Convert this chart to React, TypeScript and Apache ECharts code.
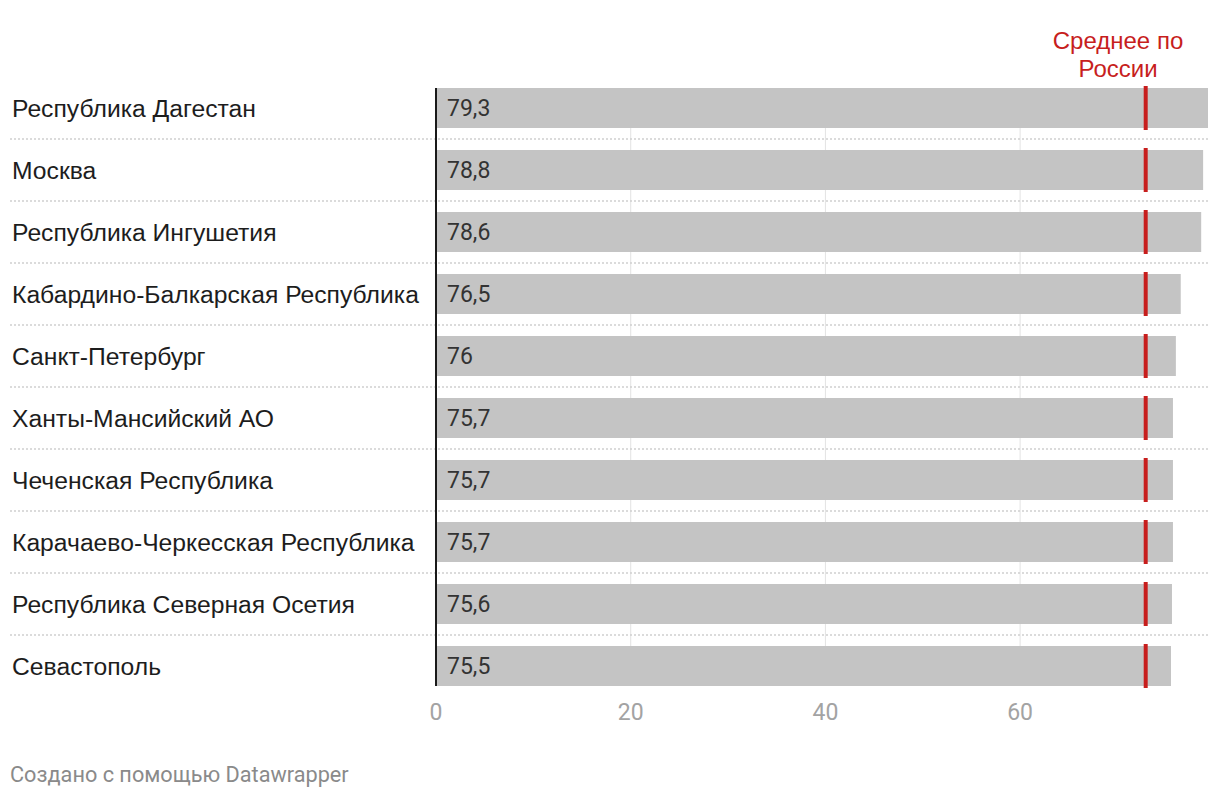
import React, { useEffect, useRef } from "react";
import * as echarts from "echarts";

const categories = [
  "Республика Дагестан",
  "Москва",
  "Республика Ингушетия",
  "Кабардино-Балкарская Республика",
  "Санкт-Петербург",
  "Ханты-Мансийский АО",
  "Чеченская Республика",
  "Карачаево-Черкесская Республика",
  "Республика Северная Осетия",
  "Севастополь",
];
const values = [79.3, 78.8, 78.6, 76.5, 76, 75.7, 75.7, 75.7, 75.6, 75.5];
const russiaAverage = 72.9;
const xTicks = [0, 20, 40, 60];
const averageLabel = "Среднее по\nРоссии";
const footer = "Создано с помощью Datawrapper";

const fmt = (v: number) => String(v).replace(".", ",");

export default function App() {
  const ref = useRef<HTMLDivElement>(null);
  useEffect(() => {
    const chart = echarts.init(ref.current!, null, { renderer: "svg" });
    const n = categories.length;
    const xMax = Math.max(...values);
    const half = 20;
    const rowSpan = (api: any, i: number) => {
      const [, cy] = api.coord([0, i]);
      const band = api.size([0, 1])[1];
      return {
        cy,
        band,
        y1: i === 0 ? cy - half : cy - band / 2,
        y2: i === n - 1 ? cy + half : cy + band / 2,
      };
    };
    chart.setOption({
      animation: false,
      grid: { left: 436, top: 77, width: 772, height: 620, containLabel: false },
      xAxis: {
        type: "value",
        min: 0,
        max: xMax,
        interval: xTicks[1] - xTicks[0],
        axisLine: { show: false },
        axisTick: { show: false },
        splitLine: { show: false },
        axisLabel: {
          showMaxLabel: false,
          margin: 4,
          fontFamily: "Roboto",
          fontSize: 23,
          color: "#a3a3a3",
        },
      },
      yAxis: {
        type: "category",
        data: categories,
        inverse: true,
        axisLine: { show: false },
        axisTick: { show: false },
        splitLine: { show: false },
        axisLabel: {
          align: "left",
          margin: 424,
          fontFamily: "Liberation Sans",
          fontSize: 24.7,
          color: "#1d1d1d",
        },
      },
      graphic: [
        {
          type: "text",
          x: 1118,
          y: 26,
          style: {
            text: averageLabel,
            fontFamily: "Liberation Sans",
            fontSize: 24,
            lineHeight: 28,
            fill: "#c71e1d",
            align: "center",
            verticalAlign: "top",
          },
        },
        {
          type: "text",
          x: 10,
          y: 763,
          style: {
            text: footer,
            fontFamily: "Roboto",
            fontSize: 21.7,
            fill: "#8a8a8a",
            verticalAlign: "top",
          },
        },
      ],
      series: [
        {
          type: "custom",
          clip: false,
          z: 1,
          silent: true,
          data: categories.map((c, i) => [0, i]),
          renderItem: (params: any, api: any) => {
            const i = api.value(1);
            const { y1, y2 } = rowSpan(api, i);
            return {
              type: "group",
              children: xTicks.slice(1).map((t) => {
                const [x] = api.coord([t, i]);
                return {
                  type: "line",
                  shape: { x1: x, y1, x2: x, y2 },
                  style: { stroke: "#e3e3e3", lineWidth: 1 },
                };
              }),
            };
          },
        },
        {
          type: "bar",
          data: values,
          barWidth: 40,
          itemStyle: { color: "#c4c4c4" },
          label: {
            show: true,
            position: "insideLeft",
            offset: [6, 0],
            formatter: (p: any) => fmt(p.value),
            fontFamily: "Roboto",
            fontSize: 23,
            color: "#333333",
          },
          z: 2,
        },
        {
          type: "custom",
          clip: false,
          z: 3,
          silent: true,
          data: categories.map((c, i) => [0, i]),
          renderItem: (params: any, api: any) => {
            const i = api.value(1);
            const [cx] = api.coord([0, i]);
            const { cy, band, y1, y2 } = rowSpan(api, i);
            const children: any[] = [];
            if (i < n - 1) {
              children.push({
                type: "line",
                shape: { x1: 10, y1: cy + band / 2, x2: 1210, y2: cy + band / 2 },
                style: { stroke: "#cfcfcf", lineWidth: 1.5, lineDash: [2, 2] },
              });
            }
            children.push({
              type: "line",
              shape: { x1: cx, y1, x2: cx, y2 },
              style: { stroke: "#1a1a1a", lineWidth: 2 },
            });
            return { type: "group", children };
          },
        },
        {
          type: "scatter",
          data: categories.map((c) => [russiaAverage, c]),
          symbol: "rect",
          symbolSize: [4, 44],
          itemStyle: { color: "#c71e1d", opacity: 1 },
          z: 4,
        },
      ],
    });
    return () => chart.dispose();
  }, []);
  return (
    <div
      ref={ref}
      style={{ position: "absolute", left: 0, top: 0, width: 1220, height: 798 }}
    />
  );
}
